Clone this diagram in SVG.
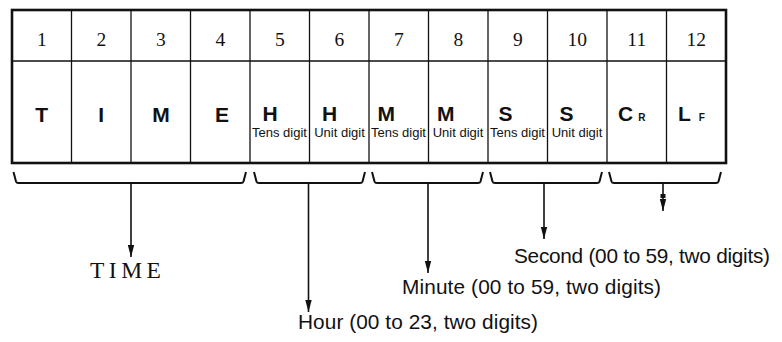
<svg xmlns="http://www.w3.org/2000/svg" width="782" height="342" viewBox="0 0 782 342">
<style>
.num{font-family:"Liberation Serif",serif;font-size:19.5px;text-anchor:middle;fill:#111}
.big{font-family:"Liberation Sans",Arial,sans-serif;font-weight:bold;font-size:21px;fill:#111}
.sub{font-family:"Liberation Sans",Arial,sans-serif;font-size:13px;text-anchor:middle;fill:#111}
.lbl{font-family:"Liberation Sans",Arial,sans-serif;font-size:20.8px;fill:#111}
.grid{stroke:#111;stroke-width:1.3;fill:none}
.br{stroke:#111;stroke-width:2;fill:none;stroke-linejoin:round}
.ar{stroke:#111;stroke-width:1.6;fill:none}
</style>
<defs>
<marker id="ah2" viewBox="0 0 12 8" refX="12" refY="4" markerWidth="12" markerHeight="8" markerUnits="userSpaceOnUse" orient="auto">
<path d="M0,0.8 L12,4 L0,7.2 Z" fill="#111"/>
</marker>
</defs>
<g id="table">
<rect x="12" y="10" width="714" height="153" fill="#fff" stroke="#111" stroke-width="2.6"/>
<line class="grid" x1="12" y1="61" x2="726" y2="61"/>
<line class="grid" x1="71.5" y1="10" x2="71.5" y2="163"/>
<line class="grid" x1="131" y1="10" x2="131" y2="163"/>
<line class="grid" x1="190.5" y1="10" x2="190.5" y2="163"/>
<line class="grid" x1="250" y1="10" x2="250" y2="163"/>
<line class="grid" x1="309.5" y1="10" x2="309.5" y2="163"/>
<line class="grid" x1="369" y1="10" x2="369" y2="163"/>
<line class="grid" x1="428.5" y1="10" x2="428.5" y2="163"/>
<line class="grid" x1="488" y1="10" x2="488" y2="163"/>
<line class="grid" x1="547.5" y1="10" x2="547.5" y2="163"/>
<line class="grid" x1="607" y1="10" x2="607" y2="163"/>
<line class="grid" x1="666.5" y1="10" x2="666.5" y2="163"/>
</g>
<g id="numbers">
<text class="num" x="41.75" y="46">1</text>
<text class="num" x="101.25" y="46">2</text>
<text class="num" x="160.75" y="46">3</text>
<text class="num" x="220.25" y="46">4</text>
<text class="num" x="279.75" y="46">5</text>
<text class="num" x="339.25" y="46">6</text>
<text class="num" x="398.75" y="46">7</text>
<text class="num" x="458.25" y="46">8</text>
<text class="num" x="517.75" y="46">9</text>
<text class="num" x="577.25" y="46">10</text>
<text class="num" x="636.75" y="46">11</text>
<text class="num" x="696.25" y="46">12</text>
</g>
<g id="cells">
<text class="big" x="41.75" y="122" text-anchor="middle">T</text>
<text class="big" x="101.25" y="122" text-anchor="middle">I</text>
<text class="big" x="161" y="122" text-anchor="middle">M</text>
<text class="big" x="222" y="122" text-anchor="middle">E</text>
<text class="big" x="262.5" y="121">H</text>
<text class="big" x="322" y="121">H</text>
<text class="big" x="377.5" y="121">M</text>
<text class="big" x="437" y="121">M</text>
<text class="big" x="498.5" y="121">S</text>
<text class="big" x="559.5" y="121">S</text>
<text class="big" x="618" y="121">C<tspan font-size="10" dx="5">R</tspan></text>
<text class="big" x="678" y="121">L<tspan font-size="10" dx="8">F</tspan></text>
<text class="sub" x="279.5" y="137">Tens digit</text>
<text class="sub" x="339.5" y="137">Unit digit</text>
<text class="sub" x="398.5" y="137">Tens digit</text>
<text class="sub" x="458" y="137">Unit digit</text>
<text class="sub" x="517.5" y="137">Tens digit</text>
<text class="sub" x="577" y="137">Unit digit</text>
</g>
<g id="connectors">
<path class="br" d="M13.5,172 L16,181.5 Q16.5,183 18.5,183 L241,183 Q243,183 243.5,181.5 L246,172"/>
<path class="br" d="M254,172 L256.5,181.5 Q257,183 259,183 L360,183 Q362,183 362.5,181.5 L365,172"/>
<path class="br" d="M372,172 L374.5,181.5 Q375,183 377,183 L478,183 Q480,183 480.5,181.5 L483,172"/>
<path class="br" d="M490,172 L492.5,181.5 Q493,183 495,183 L597,183 Q599,183 599.5,181.5 L602,172"/>
<path class="br" d="M609,172 L611.5,181.5 Q612,183 614,183 L716,183 Q718,183 718.5,181.5 L721,172"/>
<line class="ar" x1="131" y1="183" x2="131" y2="257" marker-end="url(#ah2)"/>
<line class="ar" x1="308.5" y1="183" x2="308.5" y2="312" marker-end="url(#ah2)"/>
<line class="ar" x1="428" y1="183" x2="428" y2="273" marker-end="url(#ah2)"/>
<line class="ar" x1="544" y1="183" x2="544" y2="239" marker-end="url(#ah2)"/>
<line class="ar" x1="663" y1="183" x2="663" y2="211" marker-end="url(#ah2)"/>
<rect x="660.5" y="194" width="5" height="4" fill="#111"/>
</g>
<g id="labels">
<text x="90" y="278" font-family="Liberation Serif,serif" font-size="23.5" letter-spacing="4.5" fill="#111">TIME</text>
<text class="lbl" x="298" y="329" textLength="240" lengthAdjust="spacing">Hour (00 to 23, two digits)</text>
<text class="lbl" x="402" y="294" textLength="259" lengthAdjust="spacing">Minute (00 to 59, two digits)</text>
<text class="lbl" x="514" y="263" textLength="256" lengthAdjust="spacing">Second (00 to 59, two digits)</text>
</g>
</svg>
